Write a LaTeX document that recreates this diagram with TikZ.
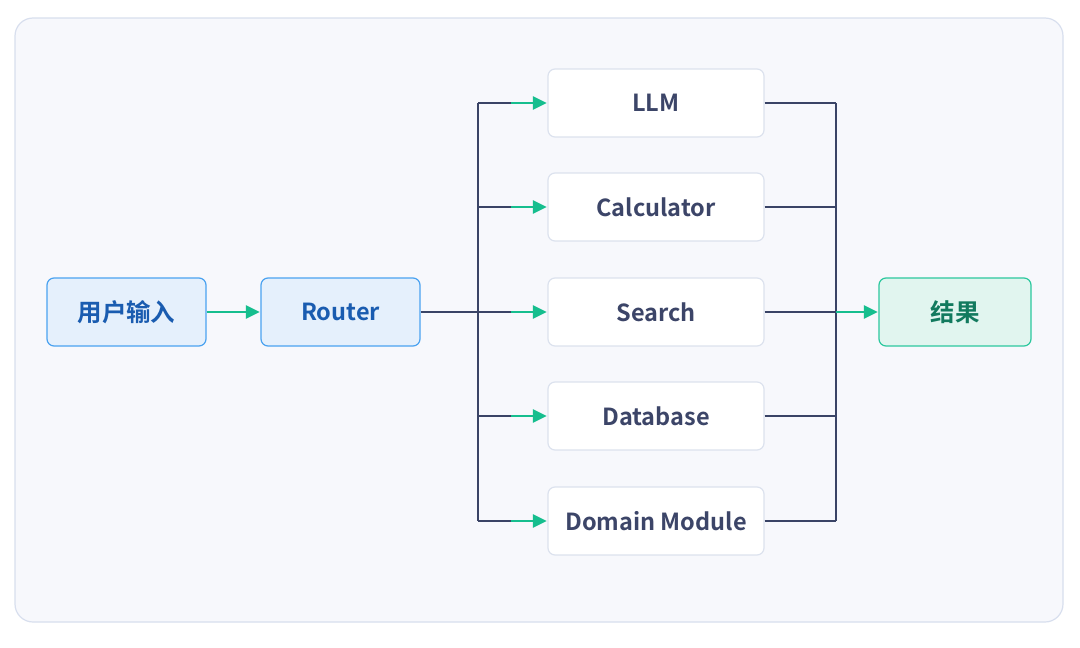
\documentclass[tikz,border=0pt]{standalone}
\usepackage{fontspec}
\setmainfont{Noto Sans CJK SC}[BoldFont={* Bold}]
\usetikzlibrary{arrows.meta,calc}
\definecolor{pagebg}{HTML}{FFFFFF}
\definecolor{panelfill}{HTML}{F7F8FC}
\definecolor{panelline}{HTML}{D8DFEE}
\definecolor{darkline}{HTML}{3A4466}
\definecolor{greenarrow}{HTML}{16BE8E}
\definecolor{bluefill}{HTML}{E5F0FC}
\definecolor{blueline}{HTML}{4AA2F0}
\definecolor{bluetext}{HTML}{1A5CB0}
\definecolor{toolline}{HTML}{DCE2EE}
\definecolor{tooltext}{HTML}{3C4568}
\definecolor{resfill}{HTML}{E1F5EF}
\definecolor{resline}{HTML}{2CC89E}
\definecolor{restext}{HTML}{127A5E}
\tikzset{
  box/.style={rounded corners=7pt, minimum height=68pt, inner sep=0pt, line width=1.2pt,
    font=\fontsize{23.5}{28}\selectfont\bfseries},
  cjkbox/.style={font=\fontsize{24.5}{28}\selectfont\bfseries},
  bluebox/.style={box, draw=blueline, fill=bluefill, text=bluetext, minimum width=159pt},
  toolbox/.style={box, draw=toolline, fill=white, text=tooltext, minimum width=216pt},
  resbox/.style={box, draw=resline, fill=resfill, text=restext, minimum width=152pt},
  wire/.style={draw=darkline, line width=1.8pt},
  garrow/.style={draw=greenarrow, line width=2.6pt, -{Triangle[length=14pt,width=13pt]}, shorten >=0.5pt},
}
\begin{document}
\begin{tikzpicture}[x=1pt,y=-1pt]
\useasboundingbox[fill=pagebg] (0,0) rectangle (1080,648);
\draw[panelline, fill=panelfill, line width=1.2pt, rounded corners=18pt] (15,18) rectangle (1063,622);

\node[bluebox, cjkbox] (input) at (126.5,312) {用户输入};
\node[bluebox] (router) at (340.5,312) {Router};
\node[toolbox] (llm) at (656,103) {LLM};
\node[toolbox] (calc) at (656,207) {Calculator};
\node[toolbox] (search) at (656,312) {Search};
\node[toolbox] (db) at (656,416) {Database};
\node[toolbox] (dom) at (656,521) {Domain Module};
\node[resbox, cjkbox] (res) at (955,312) {结果};

\coordinate (busL) at (478,312);
\coordinate (busR) at (836,312);

\draw[garrow] (input.east) -- (router.west);
\draw[wire] (router.east) -- (busL);
\draw[wire] (busL |- llm.west) -- (busL |- dom.west);
\draw[wire] (busR |- llm.east) -- (busR |- dom.east);
\foreach \t in {llm,calc,search,db,dom}{
  \draw[wire] (busL |- \t.west) -- ($(\t.west)+(-35,0)$);
  \draw[garrow] ($(\t.west)+(-36,0)$) -- (\t.west);
  \draw[wire] (\t.east) -- (busR |- \t.east);
}
\draw[garrow] (busR) -- (res.west);
\end{tikzpicture}
\end{document}
